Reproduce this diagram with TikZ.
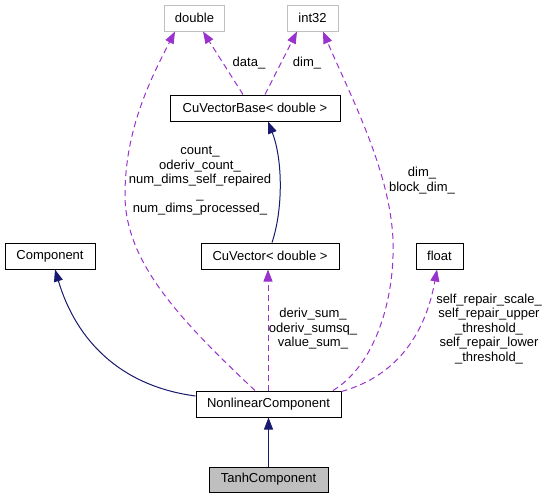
\documentclass[tikz,border=0pt]{standalone}
\usepackage{fontspec}
\setmainfont{Liberation Sans}
\usetikzlibrary{arrows.meta,calc}
\definecolor{navy}{HTML}{191970}
\definecolor{depc}{HTML}{9A32CD}
\definecolor{grayb}{HTML}{BFBFBF}
\begin{document}
\begin{tikzpicture}[x=1pt,y=-1pt,
 box/.style={draw=black,line width=1pt,inner sep=0pt,font=\fontsize{13}{15}\selectfont,minimum height=26pt},
 ext/.style={box,draw=grayb},
 inh/.style={draw=navy,line width=1pt,-{Triangle[length=12pt,width=9pt,fill=navy]}},
 use/.style={draw=depc,line width=1pt,dash pattern=on 6pt off 4pt,-{Triangle[length=12pt,width=9pt,fill=depc]}},
 lbl/.style={align=center,inner sep=0pt,font=\fontsize{13}{14.5}\selectfont}]
\useasboundingbox[fill=white] (0,0) rectangle (549,499);
% nodes
\node[ext,minimum width=60pt] (double) at (194.5,18) {double};
\node[ext,minimum width=51pt] (int) at (312.5,18) {int32};
\node[box,minimum width=170pt] (cvb) at (255,108) {CuVectorBase< double >};
\node[box,minimum width=138pt] (cv) at (270,256) {CuVector< double >};
\node[box,minimum width=90pt] (comp) at (50,256) {Component};
\node[box,minimum width=47pt] (float) at (439.5,256) {float};
\node[box,minimum width=145pt] (nlc) at (268.5,404) {NonlinearComponent};
\node[box,minimum width=119pt,minimum height=25pt,fill=grayb] (tanh) at (268.5,479.5) {TanhComponent};
% edges
\draw[use] ($(cvb.north)+(-12,0)$) -- ($(double.south)+(8.5,0)$);
\draw[use] ($(cvb.north)+(10,0)$) -- ($(int.south)+(-15.5,0)$);
\draw[inh] ($(cv.north)+(2,0)$) .. controls (283,210) and (283,160) .. ($(cvb.south)+(13,0)$);
\draw[use] ($(nlc.north)+(-13.5,0)$) .. controls (180,320) and (125,262) .. (125,195)
   .. controls (125,130) and (150,80) .. ($(double.south)+(-19.5,0)$);
\draw[use] ($(nlc.north)+(64.5,0)$) .. controls (375,365) and (395,300) .. (393,240)
   .. controls (390,170) and (350,95) .. ($(int.south)+(10.5,0)$);
\draw[use] ($(nlc.north east)+(0,1)$) .. controls (400,375) and (426,330) .. ($(float.south)+(-2.5,0)$);
\draw[use] ($(nlc.north)+(-0.5,0)$) -- ($(cv.south)+(-2,0)$);
\draw[inh] ($(nlc.west)+(0,-8)$) .. controls (120,386) and (76,340) .. ($(comp.south)+(5,0)$);
\draw[inh] (tanh.north) -- (nlc.south);
% labels
\node[lbl] (ldata) at (249,63) {data\_};
\node[lbl] (ldim) at (307,63) {dim\_};
\node[lbl] (lcount) at (200,181) {count\_\\oderiv\_count\_\\num\_dims\_self\_repaired\\\_\\num\_dims\_processed\_};
\node[lbl] (lbdim) at (422,180.5) {dim\_\\block\_dim\_};
\node[lbl] (lderiv) at (313,329) {deriv\_sum\_\\oderiv\_sumsq\_\\value\_sum\_};
\node[lbl] (lself) at (489,329) {self\_repair\_scale\_\\self\_repair\_upper\\\_threshold\_\\self\_repair\_lower\\\_threshold\_};
\end{tikzpicture}
\end{document}
